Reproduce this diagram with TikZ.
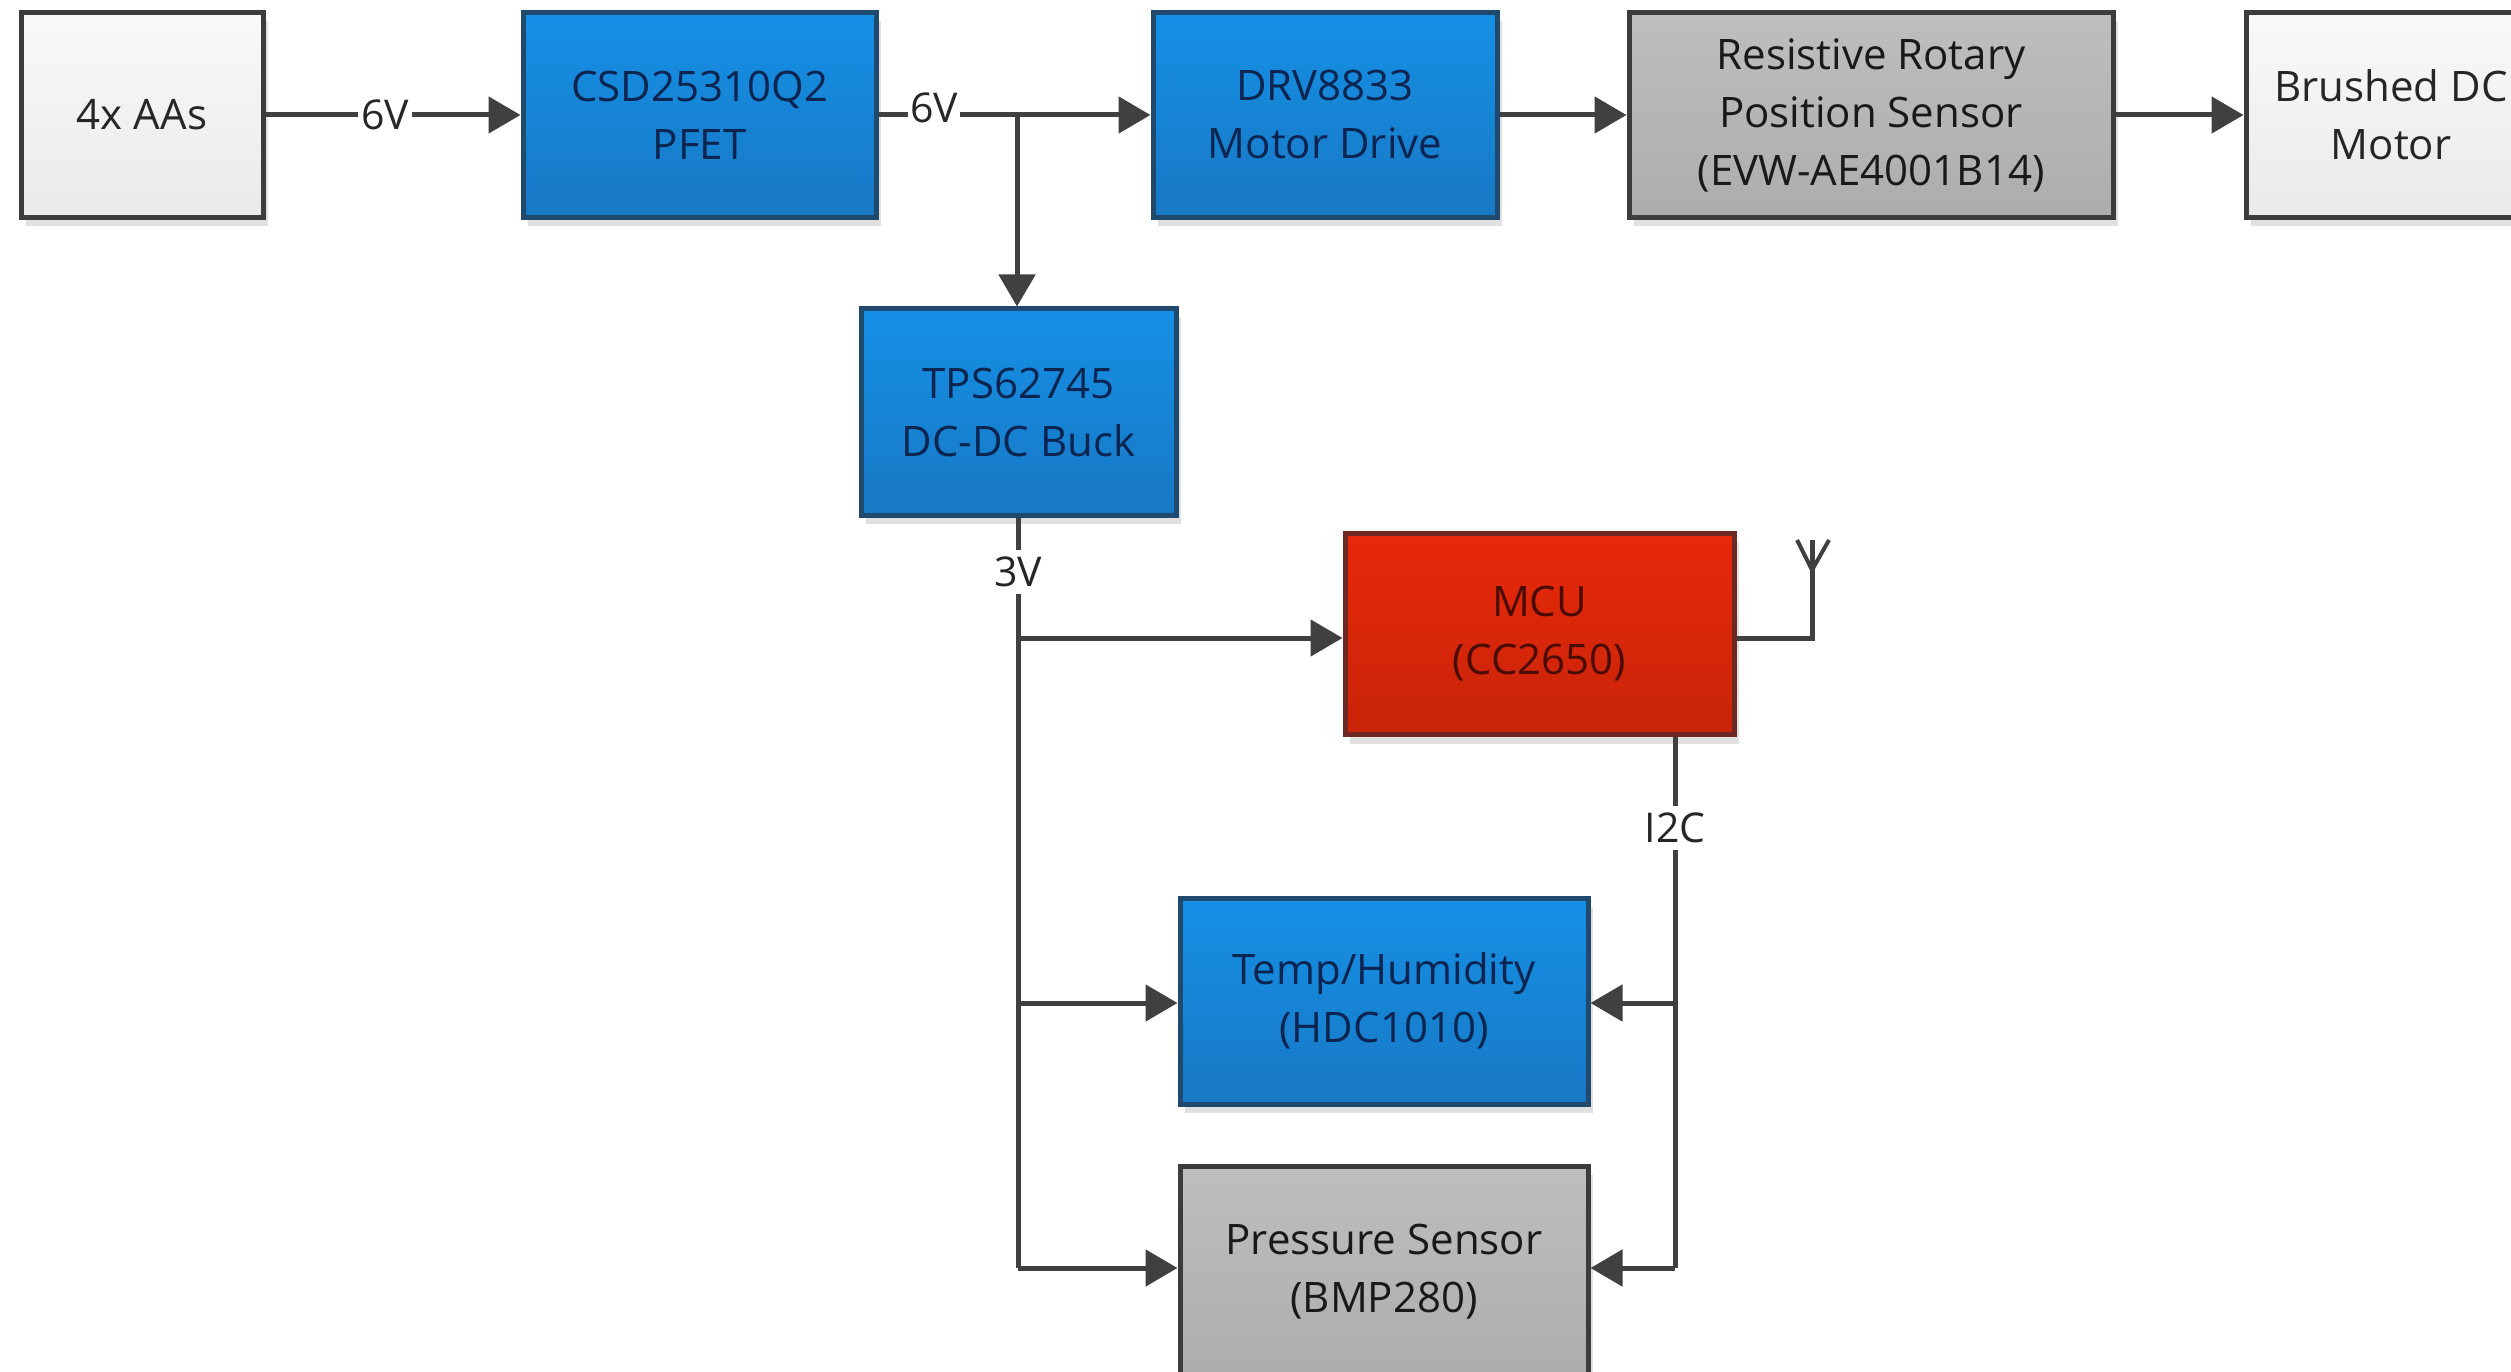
\documentclass[tikz,border=0pt]{standalone}
\usepackage{fontspec}
\setmainfont{Open Sans}
\usetikzlibrary{arrows.meta,shadows}
\definecolor{lnc}{HTML}{404040}
\definecolor{bluetop}{HTML}{1590E6}
\definecolor{bluebot}{HTML}{1878C4}
\definecolor{blueedge}{HTML}{1F4A6E}
\definecolor{bluetext}{HTML}{0B2550}
\definecolor{graytop}{HTML}{BEBEBE}
\definecolor{graybot}{HTML}{ADADAD}
\definecolor{grayedge}{HTML}{3C3C3C}
\definecolor{redtop}{HTML}{E8280A}
\definecolor{redbot}{HTML}{C82408}
\definecolor{rededge}{HTML}{6E2A22}
\definecolor{redtext}{HTML}{4A0C02}
\definecolor{whitetop}{HTML}{F9F9F9}
\definecolor{whitebot}{HTML}{EAEAEA}
\tikzset{
  blk/.style={rectangle, line width=5pt, align=center, inner sep=0pt,
    font=\fontsize{42}{58}\selectfont,
    drop shadow={shadow xshift=5pt, shadow yshift=-9pt, fill=black!12, opacity=1}},
  blueblk/.style={blk, draw=blueedge, top color=bluetop, bottom color=bluebot, text=bluetext},
  grayblk/.style={blk, draw=grayedge, top color=graytop, bottom color=graybot, text=black!90},
  whiteblk/.style={blk, draw=grayedge, top color=whitetop, bottom color=whitebot, text=black!85},
  redblk/.style={blk, draw=rededge, top color=redtop, bottom color=redbot, text=redtext},
  conn/.style={draw=lnc, line width=5pt},
  arr/.style={conn, -{Triangle[length=32pt,width=36pt]}},
  lbl/.style={fill=white, inner sep=3pt, font=\fontsize{41}{50}\selectfont, text=black!85}
}
\begin{document}
\begin{tikzpicture}[x=1pt,y=-1pt]
\useasboundingbox[fill=white] (0,0) rectangle (2511,1372);
\clip (0,0) rectangle (2511,1372);
% blocks
\node[whiteblk, minimum width=242pt, minimum height=205pt] (aas) at (142,115) {4x AAs};
\node[blueblk, minimum width=353pt, minimum height=205pt] (csd) at (699.5,115) {CSD25310Q2\\PFET};
\node[blueblk, minimum width=344pt, minimum height=205pt] (drv) at (1325,115) {DRV8833\\Motor Drive};
\node[grayblk, minimum width=484pt, minimum height=205pt] (res) at (1871,115) {Resistive Rotary\\Position Sensor\\(EVW-AE4001B14)};
\node[whiteblk, minimum width=290pt, minimum height=205pt] (brm) at (2391,115) {Brushed DC\\Motor};
\node[blueblk, minimum width=315pt, minimum height=206pt] (tps) at (1018.5,412) {TPS62745\\DC-DC Buck};
\node[redblk, minimum width=389pt, minimum height=201pt] (mcu) at (1539.5,634) {MCU\\(CC2650)};
\node[blueblk, minimum width=408pt, minimum height=206pt] (hdc) at (1384,1001) {Temp/Humidity\\(HDC1010)};
\node[grayblk, minimum width=408pt, minimum height=212pt] (bmp) at (1384,1272) {Pressure Sensor\\(BMP280)};
% top row
\draw[arr] (aas) -- node[lbl, pos=0.47] (l6a) {6V} (csd);
\coordinate (j1) at (1017,115);
\draw[arr] (csd) -- (drv);
\node[lbl, inner sep=2pt] (l6b) at (934,108) {6V};
\draw[arr] (j1) -- (j1 |- tps.north);
\draw[arr] (drv) -- (res);
\draw[arr] (res) -- (brm);
% 3V bus
\coordinate (j2) at (1018,638);
\coordinate (j3) at (1018,1003);
\coordinate (j4) at (1018,1268);
\draw[conn] (j4 |- tps.south) -- (j4);
\node[lbl, inner sep=7pt] (v3) at (1018,572) {3V};
\draw[arr] (j2) -- (j2 -| mcu.west);
\draw[arr] (j3) -- (j3 -| hdc.west);
\draw[arr] (j4) -- (j4 -| bmp.west);
% I2C bus
\coordinate (k1) at (1675,1003);
\coordinate (k2) at (1675,1268);
\draw[conn] (k1 |- mcu.south) -- (k2);
\node[lbl, inner sep=7pt] (i2c) at (1675,828) {I2C};
\draw[arr] (k1) -- (k1 -| hdc.east);
\draw[arr] (k2) -- (k2 -| bmp.east);
% antenna
\coordinate (ant) at (1812,638);
\coordinate (antt) at (1812,540);
\coordinate (antl) at (1797,540);
\coordinate (antr) at (1829,540);
\coordinate (antm) at (1812,570);
\draw[conn] (mcu.east |- ant) -- (ant) -- (antt);
\draw[conn, line width=4pt] (antl) -- (antm) -- (antr);
\end{tikzpicture}
\end{document}
